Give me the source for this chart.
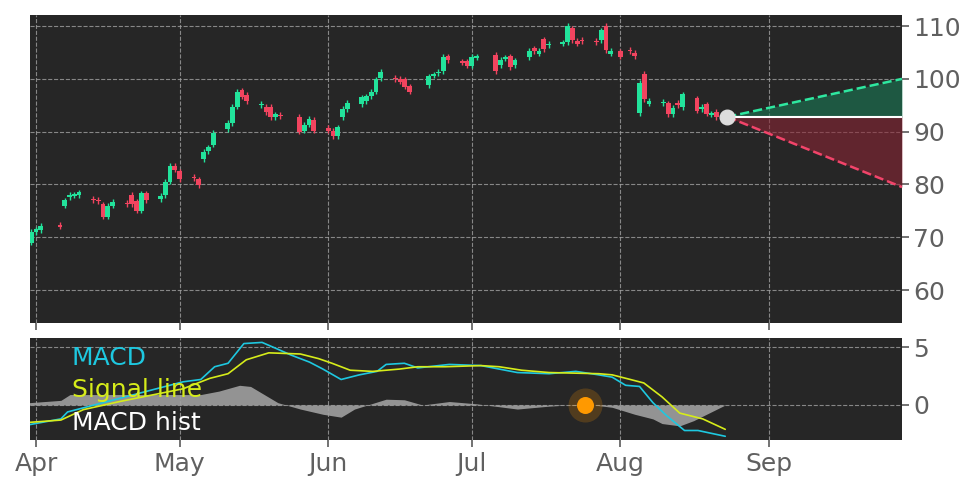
import numpy as np, pandas as pd, matplotlib
matplotlib.use("Agg")
import matplotlib.pyplot as plt, seaborn as sns

start = pd.Timestamp("2024-04-01")
candle_day = [-1,0,1,5,6,7,8,9,12,13,14,15,16,19,20,21,22,23,26,27,28,29,30,33,34,35,36,37,40,41,42,43,44,
              47,48,49,50,51,55,56,57,58,61,62,63,64,65,68,69,70,71,72,75,76,77,78,82,83,84,85,86,89,90,91,92,
              96,97,98,99,100,103,104,105,106,107,110,111,112,113,114,117,118,119,120,122,124,125,126,127,128,
              131,132,133,134,135,138,139,140,141,142]
opens = [69,71,71.3,72.3,76,77.6,77.9,78,77.2,77,76.2,73.9,76,76.5,78,76.8,75,78.3,77.2,78,80.5,83.5,82.5,81.5,81,
         84.8,86.3,87.5,90.5,91.6,94.7,97.8,97,95,94.7,94.7,92.8,93.1,92.8,90.2,91.3,92.2,90.7,90.2,89.2,92.8,94.2,
         95.2,95.8,96.7,97.6,100.1,100.2,100,99.9,98.6,98.8,100.6,101.1,101.5,104.3,103.3,103.3,102.5,104,
         104.5,102.6,103.8,104.3,102.6,104.1,105.8,104.8,107.5,106.4,106.7,107,109.6,107.2,107.4,107.2,107.3,110,104.8,105.2,
         105.4,104.9,93.5,101,95.3,95.4,95.4,93.3,95.5,94.6,96.3,94.2,95.2,93.2,93.8]
closes = [71,71.5,72.2,72,77,78,78.1,78.5,77,76.8,73.9,76,76.7,76.2,76.2,75,78.3,77,77.8,80.5,83.5,82.8,81,81.2,79.8,
          86.2,87,89.8,91.7,94.7,97.6,96.6,95.8,95.2,93.7,92.7,93.3,92.9,90,91.3,92.4,90.2,90.2,89.2,90.8,94.3,95.5,
          96.5,96.7,97.6,99.9,101.3,100,99.5,98.5,97.6,100.5,100.8,101.3,104.2,103.5,103.1,102.5,104.2,104.1,
          101.5,103.6,103.9,102.2,103.5,105.3,105.2,105.3,105.6,106.6,106.9,110,107.3,106.7,107.2,106.9,109.2,105.4,105.3,104.2,
          105.2,104.3,99.3,96.1,95.8,95.6,93.3,94.5,95,97.1,94,94.7,93.4,93.5,92.8]

macd_day = [-1.4,5.2,6.6,30.7,34.4,37.3,40.1,43.4,47.2,50,53.3,57.1,59.9,63.7,67.5,71.2,73.1,76.9,79.7,86.3,92.9,100.5,
            107.1,112.7,117.5,120.3,123.1,126,128.8,131.6,135.4,138.2,143.9]
macd = [-1.7,-1.2,-0.6,2.0,2.2,3.3,3.6,5.3,5.4,4.9,4.3,3.7,3.1,2.2,2.6,2.9,3.5,3.6,3.2,3.5,3.4,2.8,2.7,2.9,2.6,2.4,
        1.7,1.6,0.2,-0.9,-2.2,-2.2,-2.7]
sig_day = [-1.4,5.2,9.9,17.5,30.7,36.3,40.1,43.9,48.6,55.2,59,61.8,65.6,70.3,75.9,79.7,85.4,92.9,96.7,101.4,107.1,117.5,
           120.3,124.1,126.9,130.7,134.4,139.2,143.9]
signal = [-1.5,-1.3,-0.4,0.3,1.4,2.3,2.7,3.9,4.5,4.4,4.0,3.6,3.0,2.9,3.1,3.3,3.3,3.4,3.3,3.0,2.8,2.7,2.6,2.2,1.9,0.7,
          -0.7,-1.2,-2.1]
hist_day = [-1.4,5.2,7.1,34.4,38.2,42.5,44.8,50.5,55.2,59.9,63.7,66.5,73.1,76.9,80.7,86.3,92,100.5,107.1,114.6,120.3,
            125,128.8,130.7,134.4,137.3,143.9]
hist = [0.2,0.4,0.9,0.9,1.2,1.7,1.6,0.2,-0.35,-0.8,-1.05,-0.35,0.5,0.45,0,0.3,0.1,-0.35,-0.1,0.1,-0.2,-0.8,-1.2,-1.6,
        -1.8,-1.35,0]
last_day, last_price = 144.3, 92.8
cone_end_day, cone_up, cone_dn = 180.8, 100, 79.5
cross_day = 114.6
months = ["2024-04-01","2024-05-01","2024-06-01","2024-07-01","2024-08-01","2024-09-01"]

def d(x): return start + pd.to_timedelta(np.asarray(x, float), unit="D")

sns.set_theme(style="darkgrid")
BG = "#262626"
fig = plt.figure(figsize=(9.72, 4.86), dpi=100, facecolor="white")
ax = fig.add_axes([30/972, 1-323/486, 872/972, 308/486])
ax2 = fig.add_axes([30/972, 1-440/486, 872/972, 102/486], sharex=ax)
for a in (ax, ax2):
    a.set_facecolor(BG)
    a.grid(True, color="#a0a0a0", ls="--", lw=0.8, alpha=0.8)
    a.yaxis.tick_right()
    a.tick_params(axis="y", labelsize=18, colors="#606060", length=5, right=True, left=False, pad=3)
    a.tick_params(axis="x", labelsize=18, colors="#606060", length=5, bottom=True)
    for s in a.spines.values(): s.set_visible(False)

df = pd.DataFrame({"date": d(candle_day), "open": opens, "close": closes})
up = df.close >= df.open
col = np.where(up, "#22e39b", "#f2445f")
body_lo = np.minimum(df.open, df.close); body_h = np.maximum(np.abs(df.close - df.open), 0.25)
ax.vlines(df.date, body_lo - 0.5, body_lo + body_h + 0.5, colors=col, lw=1)
ax.bar(df.date, body_h, bottom=body_lo, width=1.0, color=col, edgecolor=col, linewidth=0)

ld = d([last_day])[0]; ed = d([cone_end_day])[0]
ax.plot([ld, ed], [last_price, cone_up], ls="--", color="#2ee8a0", lw=1.8)
ax.plot([ld, ed], [last_price, cone_dn], ls="--", color="#f2446a", lw=1.8)
ax.fill_between([ld, ed], [last_price]*2, [last_price, cone_up], color="#1a7a55", alpha=0.6, lw=0)
ax.fill_between([ld, ed], [last_price]*2, [last_price, cone_dn], color="#8a2535", alpha=0.6, lw=0)
ax.plot([ld, ed], [last_price]*2, color="white", lw=1.5)
ax.scatter([ld], [last_price], s=110, color="#dddddd", zorder=5)
ax.set_ylim(53.75, 112.1)
ax.set_yticks([60, 70, 80, 90, 100, 110])
ax.tick_params(axis="x", labelbottom=False)

ax2.fill_between(d(hist_day), 0, hist, color="#a0a0a0", alpha=0.9, lw=0)
sns.lineplot(x=d(macd_day), y=macd, ax=ax2, color="#1ec8e0", lw=1.2)
sns.lineplot(x=d(sig_day), y=signal, ax=ax2, color="#d6ec1a", lw=1.2)
cd = d([cross_day])[0]
ax2.scatter([cd], [0], s=600, color="#ff9900", alpha=0.2, zorder=4, lw=0)
ax2.scatter([cd], [0], s=150, color="#ff9900", zorder=5, lw=0)
ax2.set_ylim(-3.02, 5.78)
ax2.set_yticks([0, 5])
ax2.set_xlabel(""); ax2.set_ylabel("")
ax2.text(0.048, 0.80, "MACD", color="#1ec8e0", fontsize=18, transform=ax2.transAxes, va="center")
ax2.text(0.048, 0.49, "Signal line", color="#d6ec1a", fontsize=18, transform=ax2.transAxes, va="center")
ax2.text(0.048, 0.17, "MACD hist", color="white", fontsize=18, transform=ax2.transAxes, va="center")

ax.set_xlim(d([-1.25])[0], ed)
mt = pd.to_datetime(months)
ax2.set_xticks(mt)
ax2.set_xticklabels([m.strftime("%b") for m in mt])
fig.savefig("out.png", dpi=100, facecolor="white")
